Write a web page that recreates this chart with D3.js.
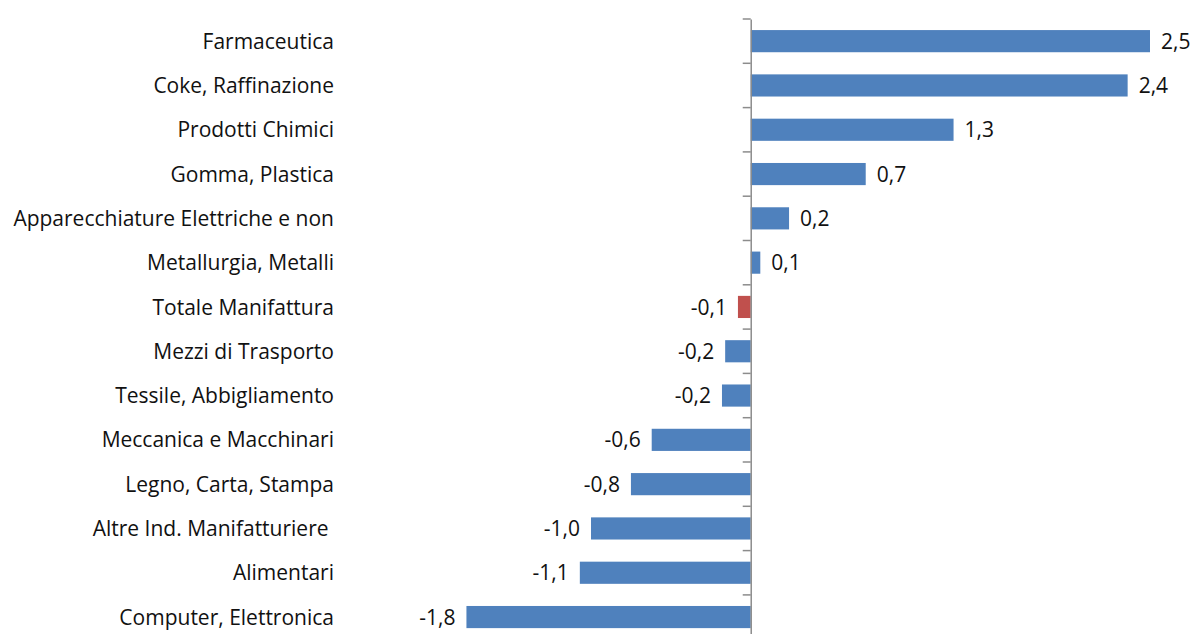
<!DOCTYPE html>
<html>
<head>
<meta charset="utf-8">
<script src="https://cdn.jsdelivr.net/npm/d3@7"></script>
<style>
  html, body { margin: 0; padding: 0; background: #fff; }
  svg { display: block; }
  text { font-family: "Open Sans", "Liberation Sans", sans-serif; fill: #111; }
</style>
</head>
<body>
<svg id="chart" width="1194" height="634"></svg>
<script>
const categories = [
  "Farmaceutica",
  "Coke, Raffinazione",
  "Prodotti Chimici",
  "Gomma, Plastica",
  "Apparecchiature Elettriche e non",
  "Metallurgia, Metalli",
  "Totale Manifattura",
  "Mezzi di Trasporto",
  "Tessile, Abbigliamento",
  "Meccanica e Macchinari",
  "Legno, Carta, Stampa",
  "Altre Ind. Manifatturiere ",
  "Alimentari",
  "Computer, Elettronica"
];
const values = [2.5, 2.36, 1.27, 0.72, 0.24, 0.06, -0.08, -0.16, -0.18, -0.62, -0.75, -1.0, -1.07, -1.78];
const highlight = ["Totale Manifattura"];

const svg = d3.select("#chart");
const x = d3.scaleLinear().domain([-2, 2.5]).range([431.3, 1150]);
const y = d3.scaleBand().domain(categories).range([19, 639.2]).paddingInner(0.5).paddingOuter(0.25);

const fmt = v => d3.format(".1f")(v).replace(".", ",").replace("−", "-");
const data = categories.map((c, i) => ({ c, v: values[i] }));

// bars
svg.append("g").selectAll("rect").data(data).join("rect")
  .attr("x", d => x(Math.min(0, d.v)))
  .attr("y", d => y(d.c))
  .attr("width", d => Math.abs(x(d.v) - x(0)))
  .attr("height", y.bandwidth())
  .attr("fill", d => highlight.includes(d.c) ? "#C0504D" : "#4F81BD");

// axis
const axis = d3.axisLeft(y).tickSize(0).tickFormat("");
const ag = svg.append("g").attr("transform", `translate(${x(0)},0)`).call(axis);
ag.select(".domain").attr("stroke", "#8c8c8c").attr("stroke-width", 1.5);
// tick marks at band boundaries
const boundaries = d3.range(categories.length + 1).map(i => y.range()[0] + i * y.step());
svg.append("g").selectAll("line").data(boundaries).join("line")
  .attr("x1", x(0) - 8).attr("x2", x(0))
  .attr("y1", d => d).attr("y2", d => d)
  .attr("stroke", "#8c8c8c").attr("stroke-width", 1.5);

// category labels
svg.append("g").selectAll("text").data(data).join("text")
  .attr("x", 334)
  .attr("y", d => y(d.c) + y.bandwidth() / 2)
  .attr("dy", "0.36em")
  .attr("text-anchor", "end")
  .style("white-space", "pre")
  .style("font-size", "21px")
  .text(d => d.c);

// value labels
svg.append("g").selectAll("text").data(data).join("text")
  .attr("x", d => d.v >= 0 ? x(d.v) + 11 : x(d.v) - 11)
  .attr("y", d => y(d.c) + y.bandwidth() / 2)
  .attr("dy", "0.36em")
  .attr("text-anchor", d => d.v >= 0 ? "start" : "end")
  .style("font-size", "21px")
  .text(d => fmt(d.v));
</script>
</body>
</html>
